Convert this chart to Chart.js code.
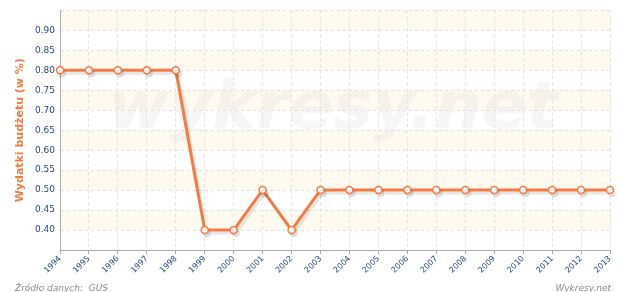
<!DOCTYPE html>
<html>
<head>
<meta charset="utf-8">
<script src="https://cdn.jsdelivr.net/npm/chart.js@4"></script>
<style>
  html, body { margin: 0; padding: 0; background: #fff; }
  #wrap { width: 620px; height: 292px; }
</style>
</head>
<body>
<div id="wrap"><canvas id="budgetChart" width="620" height="292"></canvas></div>
<script>
// data
const years = ['1994', '1995', '1996', '1997', '1998', '1999', '2000', '2001', '2002', '2003',
               '2004', '2005', '2006', '2007', '2008', '2009', '2010', '2011', '2012', '2013'];
const shares = [0.80, 0.80, 0.80, 0.80, 0.80, 0.40, 0.40, 0.50, 0.40, 0.50,
                0.50, 0.50, 0.50, 0.50, 0.50, 0.50, 0.50, 0.50, 0.50, 0.50];
const yMin = 0.35, yMax = 0.95, yStep = 0.05;

const orange = '#f47c44';
const tickBlue = '#23497a';

// alternating cream bands behind the grid + watermark
const backdrop = {
    id: 'backdrop',
    beforeDraw(chart) {
        const { ctx, chartArea: a, scales: { y } } = chart;
        ctx.save();
        ctx.fillStyle = '#fffaf0';
        for (let v = yMax; v > yMin + 0.001; v -= 2 * yStep) {
            const top = y.getPixelForValue(v);
            const bot = y.getPixelForValue(v - yStep);
            ctx.fillRect(a.left, top, a.right - a.left, bot - top);
        }
        ctx.fillStyle = 'rgba(225,225,225,0.3)';
        ctx.font = 'italic bold 66px "DejaVu Sans"';
        ctx.textBaseline = 'alphabetic';
        ctx.fillText('wykresy.net', 108, 128);
        ctx.restore();
    },
    afterDraw(chart) {
        const { ctx } = chart;
        ctx.save();
        ctx.fillStyle = '#8a8a8a';
        ctx.font = 'italic 9px "DejaVu Sans"';
        ctx.textBaseline = 'alphabetic';
        ctx.textAlign = 'left';
        ctx.fillText('Źródło danych:  GUS', 15, 291);
        ctx.textAlign = 'right';
        ctx.fillText('Wykresy.net', 611, 291);
        ctx.restore();
    }
};

// soft grey shadow under the line
const lineShadow = {
    id: 'lineShadow',
    beforeDatasetDraw(chart) {
        const ctx = chart.ctx;
        ctx.save();
        ctx.shadowColor = 'rgba(0,0,0,0.10)';
        ctx.shadowOffsetX = 2;
        ctx.shadowOffsetY = 3;
        ctx.shadowBlur = 1;
    },
    afterDatasetDraw(chart) {
        chart.ctx.restore();
    }
};

const ctx = document.getElementById('budgetChart').getContext('2d');
const budgetChart = new Chart(ctx, {
    type: 'line',
    data: {
        labels: years,
        datasets: [{
            data: shares,
            borderColor: orange,
            borderWidth: 3,
            pointRadius: 3.5,
            pointBorderWidth: 1.5,
            pointBackgroundColor: '#fff',
            pointBorderColor: orange,
            tension: 0
        }]
    },
    options: {
        responsive: false,
        animation: false,
        layout: { padding: { left: 0, right: 10, top: 10, bottom: 0 } },
        plugins: {
            legend: { display: false },
            tooltip: { enabled: false }
        },
        scales: {
            x: {
                offset: false,
                grid: {
                    color: '#e0e0e0',
                    tickLength: 4,
                    tickColor: '#aaaaaa'
                },
                border: { color: '#aaaaaa', width: 1, dash: [3, 3] },
                ticks: {
                    color: tickBlue,
                    font: { family: 'DejaVu Sans', size: 8 },
                    minRotation: 45,
                    maxRotation: 45,
                    autoSkip: false,
                    padding: 0
                },
                afterFit(scale) { scale.height = 42; }
            },
            y: {
                min: yMin,
                max: yMax,
                grid: {
                    color: '#e0e0e0',
                    drawTicks: false
                },
                border: { color: '#aaaaaa', width: 1, dash: [3, 3] },
                ticks: {
                    stepSize: yStep,
                    color: tickBlue,
                    font: { family: 'DejaVu Sans', size: 9 },
                    padding: 5,
                    callback(value) {
                        if (value < 0.39 || value > 0.91) return '';
                        return value.toFixed(2);
                    }
                },
                title: {
                    display: true,
                    text: 'Wydatki budżetu (w %)',
                    color: orange,
                    font: { family: 'DejaVu Sans', size: 11, weight: 'bold' },
                    padding: { top: 14, bottom: 0 }
                },
                afterFit(scale) { scale.width = 60; }
            }
        }
    },
    plugins: [backdrop, lineShadow]
});
</script>
</body>
</html>
